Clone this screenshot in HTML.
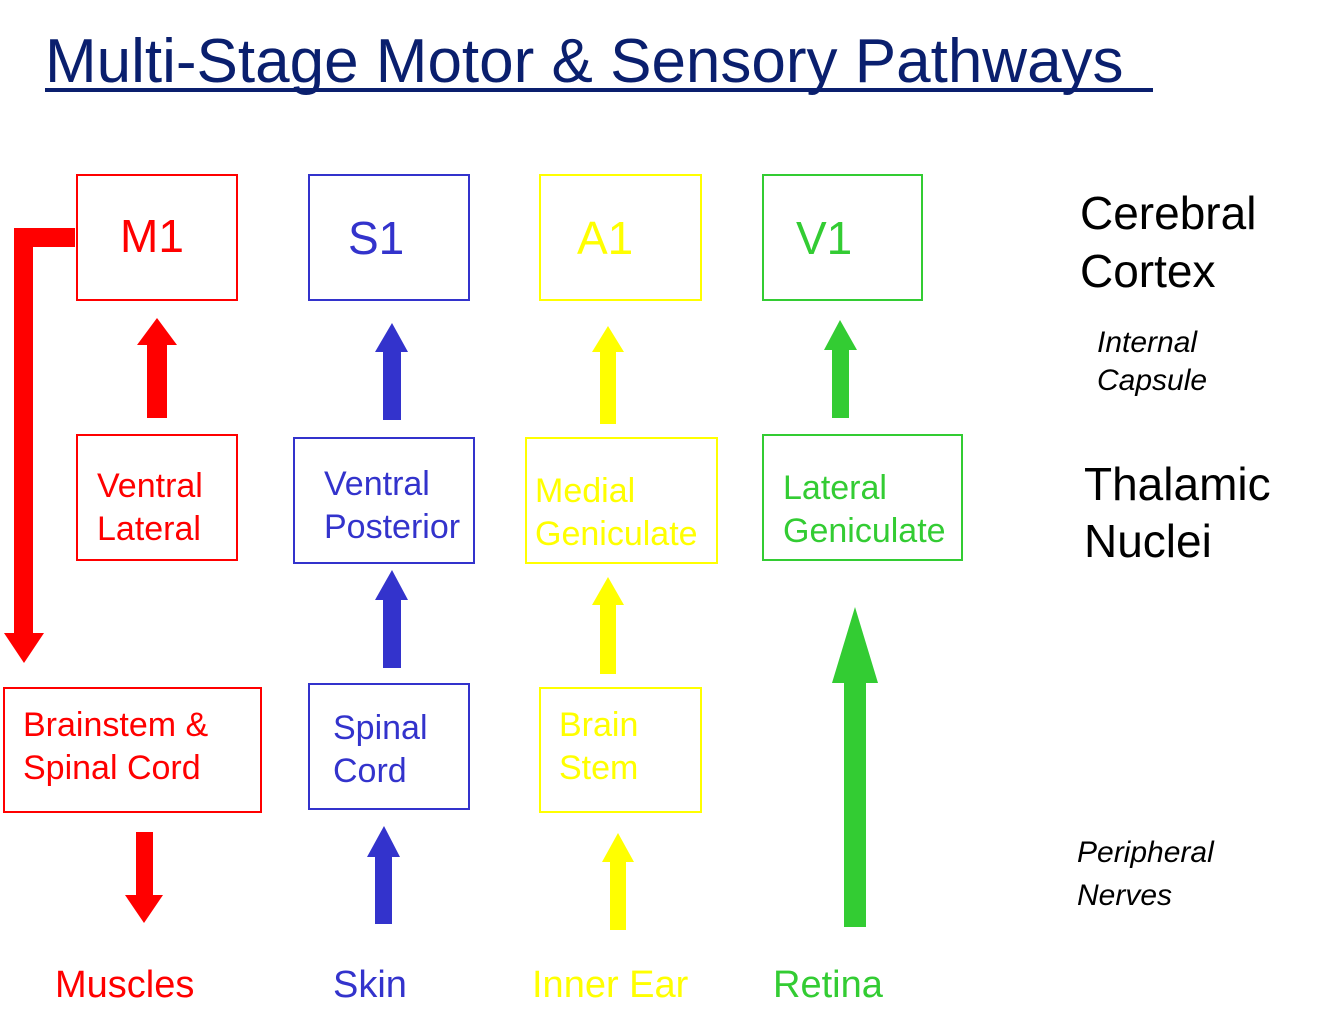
<!DOCTYPE html>
<html><head><meta charset="utf-8"><style>
html,body{margin:0;padding:0;background:#fff;}
svg{display:block;font-family:"Liberation Sans",Arial,sans-serif;}
</style></head><body>
<svg width="1334" height="1029" viewBox="0 0 1334 1029" xmlns="http://www.w3.org/2000/svg">
<text x="45" y="82" font-size="62" fill="#0a1f6e">Multi-Stage Motor &amp; Sensory Pathways</text>
<rect x="45" y="88" width="1108" height="4" fill="#0a1f6e"/>

<g fill="none" stroke-width="2">
<rect x="77" y="175" width="160" height="125" stroke="#ff0000"/>
<rect x="309" y="175" width="160" height="125" stroke="#3333cc"/>
<rect x="540" y="175" width="161" height="125" stroke="#ffff00"/>
<rect x="763" y="175" width="159" height="125" stroke="#33cc33"/>
<rect x="77" y="435" width="160" height="125" stroke="#ff0000"/>
<rect x="294" y="438" width="180" height="125" stroke="#3333cc"/>
<rect x="526" y="438" width="191" height="125" stroke="#ffff00"/>
<rect x="763" y="435" width="199" height="125" stroke="#33cc33"/>
<rect x="4" y="688" width="257" height="124" stroke="#ff0000"/>
<rect x="309" y="684" width="160" height="125" stroke="#3333cc"/>
<rect x="540" y="688" width="161" height="124" stroke="#ffff00"/>
</g>

<!-- red L arrow -->
<polygon fill="#ff0000" points="75,228 75,247 33,247 33,633 44,633 24,663 4,633 14,633 14,228"/>
<!-- arrows -->
<polygon fill="#ff0000" points="157,318 177,345 167,345 167,418 147,418 147,345 137,345"/>
<polygon fill="#3333cc" points="392,323 408,352 401,352 401,420 383,420 383,352 375,352"/>
<polygon fill="#ffff00" points="608,326 624,352 616,352 616,424 600,424 600,352 592,352"/>
<polygon fill="#33cc33" points="840,320 857,350 849,350 849,418 832,418 832,350 824,350"/>
<polygon fill="#3333cc" points="392,570 408,600 401,600 401,668 383,668 383,600 375,600"/>
<polygon fill="#ffff00" points="608,577 624,605 616,605 616,674 600,674 600,605 592,605"/>
<polygon fill="#33cc33" points="855,607 878,683 866,683 866,927 844,927 844,683 832,683"/>
<polygon fill="#ff0000" points="136,832 153,832 153,895 163,895 144,923 125,895 136,895"/>
<polygon fill="#3333cc" points="384,826 400,857 392,857 392,924 375,924 375,857 367,857"/>
<polygon fill="#ffff00" points="618,833 634,862 626,862 626,930 610,930 610,862 602,862"/>

<g font-size="46">
<text x="120" y="252" fill="#ff0000">M1</text>
<text x="348" y="254" fill="#3333cc">S1</text>
<text x="577" y="254" fill="#ffff00">A1</text>
<text x="796" y="254" fill="#33cc33">V1</text>
</g>
<g font-size="34">
<text x="97" y="497" fill="#ff0000">Ventral</text>
<text x="97" y="540" fill="#ff0000">Lateral</text>
<text x="324" y="495" fill="#3333cc">Ventral</text>
<text x="324" y="538" fill="#3333cc">Posterior</text>
<text x="535" y="502" fill="#ffff00">Medial</text>
<text x="535" y="545" fill="#ffff00">Geniculate</text>
<text x="783" y="499" fill="#33cc33">Lateral</text>
<text x="783" y="542" fill="#33cc33">Geniculate</text>
<text x="23" y="736" fill="#ff0000">Brainstem &amp;</text>
<text x="23" y="779" fill="#ff0000">Spinal Cord</text>
<text x="333" y="739" fill="#3333cc">Spinal</text>
<text x="333" y="782" fill="#3333cc">Cord</text>
<text x="559" y="736" fill="#ffff00">Brain</text>
<text x="559" y="779" fill="#ffff00">Stem</text>
</g>
<g font-size="38">
<text x="55" y="997" fill="#ff0000">Muscles</text>
<text x="333" y="997" fill="#3333cc">Skin</text>
<text x="532" y="997" fill="#ffff00">Inner Ear</text>
<text x="773" y="997" fill="#33cc33">Retina</text>
</g>
<g font-size="46" fill="#000">
<text x="1080" y="229">Cerebral</text>
<text x="1080" y="287">Cortex</text>
<text x="1084" y="500">Thalamic</text>
<text x="1084" y="557">Nuclei</text>
</g>
<g font-size="30" font-style="italic" fill="#000">
<text x="1097" y="352">Internal</text>
<text x="1097" y="390">Capsule</text>
<text x="1077" y="862">Peripheral</text>
<text x="1077" y="905">Nerves</text>
</g>
</svg>
</body></html>
